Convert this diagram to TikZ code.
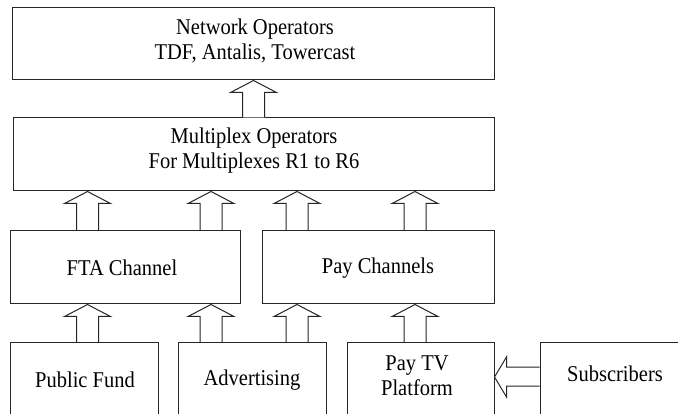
\documentclass[tikz,border=0pt]{standalone}
\usepackage{graphicx}
\usepackage{fontspec}
\setmainfont{Liberation Serif}
\newfontfamily\labelfont{Liberation Serif}
\usetikzlibrary{calc}

% slightly tall lettering
\newcommand\tall[1]{\scalebox{1}[1.1]{#1}}

% hollow block arrow pointing up, from the top of #2 to the bottom of #3, at x = #1
\newcommand\blkup[3]{%
  \draw[blk] ({#1-11},0 |- #2.north)
    -- ($({#1-11},0 |- #3.south)+(0,12)$)
    -- ($({#1-23},0 |- #3.south)+(0,12)$)
    -- ({#1},0 |- #3.south)
    -- ($({#1+23},0 |- #3.south)+(0,12)$)
    -- ($({#1+11},0 |- #3.south)+(0,12)$)
    -- ({#1+11},0 |- #2.north);}

\begin{document}
\begin{tikzpicture}[x=1pt,y=-1pt,
  box/.style={draw=black!85,line width=1pt,rectangle,inner sep=0pt},
  lbl/.style={font=\labelfont\fontsize{20.5}{25}\selectfont,align=center,inner sep=0pt},
  blk/.style={draw=black!85,line width=1pt,fill=white,line join=miter}]
\useasboundingbox (0,0) rectangle (678,414);
\clip (0,0) rectangle (678,414);

% boxes
\node[box,minimum width=482pt,minimum height=72pt] (net) at (253.5,44) {};
\node[box,minimum width=481pt,minimum height=73pt] (mux) at (254,154.5) {};
\node[box,minimum width=230pt,minimum height=73.5pt] (fta) at (125.5,267.25) {};
\node[box,minimum width=232.5pt,minimum height=73.5pt] (pay) at (378.25,267.25) {};
\node[box,minimum width=147.5pt,minimum height=75pt] (pub) at (84.25,380) {};
\node[box,minimum width=148pt,minimum height=75pt] (adv) at (252,380) {};
\node[box,minimum width=147pt,minimum height=75pt] (ptv) at (420.5,380) {};
\node[box,minimum width=160pt,minimum height=75pt] (sub) at (620,380) {};

% labels
\node[lbl] (nett) at (255,41) {\tall{Network Operators}\\\tall{TDF, Antalis, Towercast}};
\node[lbl] (muxt) at (254,151) {\tall{Multiplex Operators}\\\tall{For Multiplexes R1 to R6}};
\node[lbl] (ftat) at (122,268) {\tall{FTA Channel}};
\node[lbl] (payt) at (378,268) {\tall{Pay Channels}};
\node[lbl] (pubt) at (85,380) {\tall{Public Fund}};
\node[lbl] (advt) at (252,380) {\tall{Advertising}};
\node[lbl] (ptvt) at (417,375.5) {\tall{Pay TV}\\\tall{Platform}};
\node[lbl] (subt) at (615,374) {\tall{Subscribers}};

% vertical block arrows
\blkup{253.5}{mux}{net}
\blkup{87.5}{fta}{mux}
\blkup{211}{fta}{mux}
\blkup{297}{pay}{mux}
\blkup{415}{pay}{mux}
\blkup{87.5}{pub}{fta}
\blkup{211}{adv}{fta}
\blkup{297}{adv}{pay}
\blkup{415}{ptv}{pay}

% horizontal block arrow from the subscribers to the platform
\draw[blk] (sub.west |- 0,367)
  -- ($(ptv.east |- 0,367)+(12,0)$)
  -- ($(ptv.east |- 0,357)+(12,0)$)
  -- (ptv.east |- 0,377)
  -- ($(ptv.east |- 0,397)+(12,0)$)
  -- ($(ptv.east |- 0,386)+(12,0)$)
  -- (sub.west |- 0,386);
\end{tikzpicture}
\end{document}
